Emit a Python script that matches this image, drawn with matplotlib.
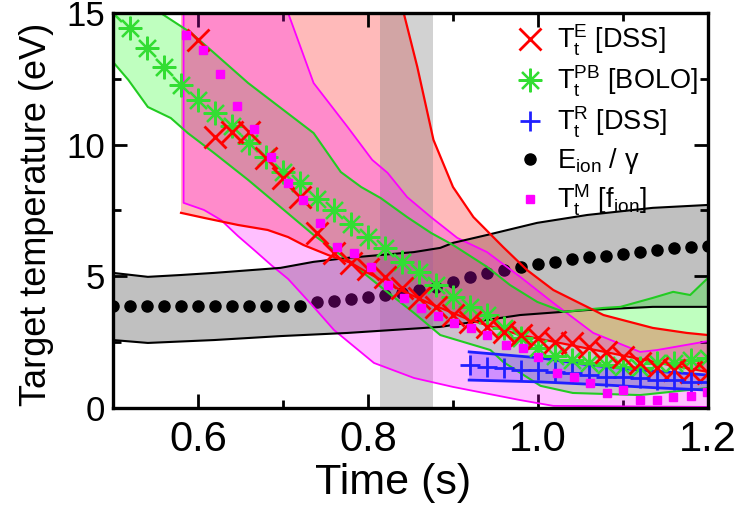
"""Target temperature versus time: DSS, bolometry and ionisation-energy estimates."""

import matplotlib

matplotlib.use("Agg")
import matplotlib.pyplot as plt
import numpy as np
from matplotlib.ticker import MultipleLocator

plt.rcParams["font.family"] = ["Liberation Sans", "DejaVu Sans"]
plt.rcParams["mathtext.default"] = "regular"

# E_ion / gamma (black dots) and its grey band
ion_time = [0.50, 0.52, 0.54, 0.56, 0.58, 0.60, 0.62, 0.64, 0.66, 0.68, 0.70, 0.72,
            0.74, 0.76, 0.78, 0.80, 0.82, 0.84, 0.86, 0.88, 0.90, 0.92, 0.94, 0.96,
            0.98, 1.00, 1.02, 1.04, 1.06, 1.08, 1.10, 1.12, 1.14, 1.16, 1.18, 1.20]
ion_energy = [3.87, 3.87, 3.87, 3.87, 3.87, 3.87, 3.87, 3.87, 3.87, 3.87, 3.87, 3.87,
              4.04, 4.08, 4.14, 4.22, 4.29, 4.38, 4.48, 4.61, 4.80, 4.96, 5.12, 5.24,
              5.37, 5.47, 5.56, 5.65, 5.72, 5.77, 5.85, 5.91, 6.00, 6.07, 6.10, 6.15]
ion_hi_time = [0.500, 0.541, 0.580, 0.619, 0.697, 0.736, 0.776, 0.854, 0.885, 0.900,
               0.940, 0.999, 1.058, 1.135, 1.200]
ion_hi = [5.13, 4.98, 5.05, 5.13, 5.32, 5.55, 5.70, 5.92, 6.08, 6.27,
          6.57, 7.03, 7.33, 7.60, 7.71]
ion_lo_time = [0.500, 0.541, 0.619, 0.697, 0.776, 0.885, 0.979, 1.058, 1.135, 1.200]
ion_lo = [2.58, 2.47, 2.58, 2.73, 2.85, 3.08, 3.53, 3.72, 3.84, 3.84]

# T_t^PB [BOLO] (green stars) and its band
pb_time = ion_time
pb_temp = [15.0, 14.43, 13.67, 12.95, 12.27, 11.70, 11.20, 10.71, 10.06, 9.53,
           8.96, 8.55, 7.94, 7.52, 6.99, 6.49, 6.08, 5.54, 5.17, 4.67,
           4.22, 3.84, 3.53, 3.04, 2.66, 2.28, 1.97, 1.82, 1.71, 1.63,
           1.56, 1.52, 1.71, 1.71, 1.82, 1.90]
pb_hi_time = [0.500, 0.556, 0.592, 0.619, 0.659, 0.736, 0.768, 0.792, 0.815, 0.846,
              0.874, 0.900, 0.940, 0.967, 0.999, 1.030, 1.077, 1.097, 1.135, 1.159,
              1.179, 1.200]
pb_hi = [16.7, 15.0, 14.24, 13.48, 12.34, 10.44, 8.96, 8.39, 7.97, 7.25,
         6.65, 6.19, 5.36, 4.67, 4.03, 3.65, 3.80, 3.84, 4.18, 4.41,
         4.29, 4.94]
pb_lo_time = [0.500, 0.518, 0.541, 0.568, 0.588, 0.619, 0.659, 0.697, 0.736, 0.776,
              0.815, 0.854, 0.885, 0.944, 0.959, 1.003, 1.041, 1.120, 1.200]
pb_lo = [13.14, 12.46, 11.43, 11.01, 10.44, 9.68, 8.66, 7.63, 6.57, 5.62,
         4.60, 3.61, 2.77, 2.20, 1.75, 0.84, 0.57, 0.49, 0.76]

# T_t^E [DSS] (red crosses) and its band
e_time = [0.60, 0.62, 0.64, 0.66, 0.68, 0.70, 0.72, 0.74, 0.76, 0.78, 0.80,
          0.82, 0.84, 0.86, 0.88, 0.90, 0.92, 0.94, 0.96, 0.98, 1.00, 1.02,
          1.04, 1.06, 1.08, 1.10, 1.12, 1.14, 1.16, 1.18, 1.20]
e_temp = [13.98, 10.29, 10.48, 10.48, 9.49, 8.74, 8.01, 6.65, 5.89, 5.51, 5.28,
          4.98, 4.56, 4.18, 3.84, 3.53, 3.27, 3.08, 2.89, 2.77, 2.66, 2.51,
          2.47, 2.32, 2.13, 1.94, 1.71, 1.52, 1.44, 1.37, 1.33]
e_hi_time = [0.580, 0.700, 0.842, 0.858, 0.877, 0.900, 0.924, 0.959, 0.987, 1.018,
             1.077, 1.135, 1.175, 1.200]
e_hi = [22.0, 19.0, 15.0, 12.95, 10.18, 8.39, 7.25, 6.11, 5.24, 4.48,
        3.53, 3.04, 2.85, 2.77]
e_lo_time = [0.580, 0.607, 0.647, 0.682, 0.706, 0.724, 0.753, 0.780, 0.800, 0.838,
             0.877, 0.920, 0.979, 1.038, 1.097, 1.155, 1.200]
e_lo = [7.41, 7.22, 6.95, 6.76, 6.49, 6.19, 5.81, 5.51, 5.13, 4.48,
        3.91, 3.34, 2.77, 2.39, 2.01, 1.63, 1.37]

# T_t^R [DSS] (blue plus) and its band
r_time = [0.92, 0.94, 0.96, 0.98, 1.00, 1.02, 1.04, 1.06, 1.08, 1.10,
          1.12, 1.14, 1.16, 1.18, 1.20]
r_temp = [1.63, 1.56, 1.52, 1.44, 1.44, 1.37, 1.33, 1.25, 1.18, 1.18,
          1.14, 1.06, 1.06, 0.99, 0.99]
r_hi_time = [0.919, 1.003, 1.061, 1.120, 1.200]
r_hi = [2.13, 1.90, 1.63, 1.44, 1.25]
r_lo_time = [0.919, 1.003, 1.081, 1.143, 1.200]
r_lo = [1.06, 0.99, 0.87, 0.76, 0.68]

# T_t^M [f_ion] (magenta squares) and its band
m_time = [0.586, 0.606, 0.626, 0.646, 0.666, 0.686, 0.706, 0.724, 0.744, 0.764,
          0.783, 0.803, 0.823, 0.842, 0.862, 0.882, 0.901, 0.921, 0.940, 0.962,
          0.982, 1.000, 1.022, 1.042, 1.061, 1.081, 1.100, 1.120, 1.140, 1.159,
          1.180, 1.199]
m_temp = [14.17, 13.60, 12.69, 11.47, 10.60, 9.53, 8.55, 7.90, 7.03, 6.11,
          5.89, 5.35, 4.67, 4.18, 3.80, 3.49, 3.23, 3.04, 2.77, 2.39,
          2.28, 1.94, 1.33, 1.18, 0.95, 0.57, 0.68, 0.30, 0.30, 0.42,
          0.46, 0.61]
m_hi_time = [0.583, 0.706, 0.736, 0.776, 0.805, 0.823, 0.846, 0.874, 0.905, 0.940,
             0.979, 1.018, 1.065, 1.120, 1.140, 1.200]
m_hi = [15.0, 15.0, 12.34, 10.67, 9.42, 8.93, 8.01, 7.25, 6.46, 5.92,
        4.98, 3.99, 2.85, 2.13, 2.20, 2.54]
m_lo_time = [0.583, 0.607, 0.627, 0.647, 0.666, 0.686, 0.706, 0.736, 0.760, 0.807,
             0.854, 0.900, 0.979, 1.018, 1.200]
m_lo = [7.79, 7.52, 7.14, 6.53, 6.00, 5.43, 4.90, 3.84, 2.96, 1.71,
        1.14, 0.80, 0.30, 0.08, 0.04]

shaded_window = (0.814, 0.876)


def band_polygon(hi_t, hi_v, lo_t, lo_v):
    xs = np.concatenate([hi_t, lo_t[::-1]])
    ys = np.concatenate([hi_v, lo_v[::-1]])
    return xs, ys


def main() -> None:
    fig = plt.figure(figsize=(7.41, 5.11), dpi=100)
    ax = fig.add_axes([0.1525, 0.2016, 0.803, 0.773])

    # bands
    xs, ys = band_polygon(ion_hi_time, ion_hi, ion_lo_time, ion_lo)
    ax.fill(xs, ys, color="#c0c0c0", lw=0, zorder=1)
    xs, ys = band_polygon(pb_hi_time, pb_hi, pb_lo_time, pb_lo)
    ax.fill(xs, ys, color=(0.0, 1.0, 0.0, 0.25), lw=0, zorder=1.2)
    xs, ys = band_polygon(e_hi_time, e_hi, e_lo_time, e_lo)
    ax.fill(xs, ys, color=(1.0, 0.0, 0.0, 0.27), lw=0, zorder=1.4)
    xs, ys = band_polygon(r_hi_time, r_hi, r_lo_time, r_lo)
    ax.fill(xs, ys, color=(0.2, 0.2, 1.0, 0.3), lw=0, zorder=1.6)

    ax.axvspan(*shaded_window, color="gray", alpha=0.35, lw=0, zorder=1.8)

    ion_line, = ax.plot(ion_time, ion_energy, "o", color="black", ms=8,
                        zorder=2, label=r"E$_{ion}$ / γ")

    xs, ys = band_polygon(m_hi_time, m_hi, m_lo_time, m_lo)
    xs = np.append(xs, xs[0])
    ys = np.append(ys, ys[0])
    ax.fill(xs, ys, color=(1.0, 0.0, 1.0, 0.25), lw=0, zorder=2.2)
    ax.plot(xs, ys, color="magenta", lw=1.3, zorder=3)

    # band edge lines
    ax.plot(ion_hi_time, ion_hi, color="black", lw=1.5, zorder=3)
    ax.plot(ion_lo_time, ion_lo, color="black", lw=1.5, zorder=3)
    ax.plot(pb_hi_time, pb_hi, color="#22cc22", lw=1.5, zorder=3)
    ax.plot(pb_lo_time, pb_lo, color="#22cc22", lw=1.5, zorder=3)
    ax.plot(e_hi_time, e_hi, color="red", lw=1.6, zorder=3)
    ax.plot(e_lo_time, e_lo, color="red", lw=1.6, zorder=3)
    ax.plot(r_hi_time, r_hi, color="#2020ff", lw=2, zorder=3)
    ax.plot(r_lo_time, r_lo, color="#2020ff", lw=2, zorder=3)

    # markers
    pb_line, = ax.plot(pb_time, pb_temp, ls="none", marker=(8, 2, 0), ms=17, mew=1.6,
                       color="#33dd33", zorder=4,
                       label=r"T$_t^{PB}$ [BOLO]")
    e_line, = ax.plot(e_time, e_temp, ls="none", marker="x", ms=16.5, mew=2,
                      color="red", zorder=5, label=r"T$_t^E$ [DSS]")
    r_line, = ax.plot(r_time, r_temp, ls="none", marker="+", ms=15, mew=2,
                      color="#2020ff", zorder=5, label=r"T$_t^R$ [DSS]")
    m_line, = ax.plot(m_time, m_temp, ls="none", marker="s", ms=6,
                      color="magenta", zorder=6, label=r"T$_t^M$ [f$_{ion}$]")

    ax.set_xlim(0.5, 1.2)
    ax.set_ylim(0, 15)
    ax.set_xticks([0.6, 0.8, 1.0, 1.2])
    ax.xaxis.set_minor_locator(MultipleLocator(0.1))
    ax.yaxis.set_major_locator(MultipleLocator(5))
    ax.yaxis.set_minor_locator(MultipleLocator(2.5))
    ax.tick_params(which="both", direction="in", top=True, right=True, width=2)
    ax.tick_params(which="major", length=10)
    ax.tick_params(which="minor", length=6)
    ax.tick_params(axis="x", labelsize=30, pad=9)
    ax.tick_params(axis="y", labelsize=25, pad=6)
    for spine in ax.spines.values():
        spine.set_linewidth(2.4)
        spine.set_zorder(10)

    ax.set_xlabel("Time (s)", fontsize=31)
    ax.xaxis.set_label_coords(0.47, -0.14)
    ax.set_ylabel("Target temperature (eV)", fontsize=26)
    ax.yaxis.set_label_coords(-0.1, 0.49)

    ax.legend(handles=[e_line, pb_line, r_line, ion_line, m_line],
              loc="upper right", bbox_to_anchor=(1.005, 1.01), frameon=False,
              fontsize=19.5, numpoints=1, handlelength=1.0, handletextpad=0.5,
              labelspacing=0.22, borderaxespad=0.1)

    fig.savefig("out.png", dpi=100)
    plt.close(fig)


if __name__ == "__main__":
    main()
